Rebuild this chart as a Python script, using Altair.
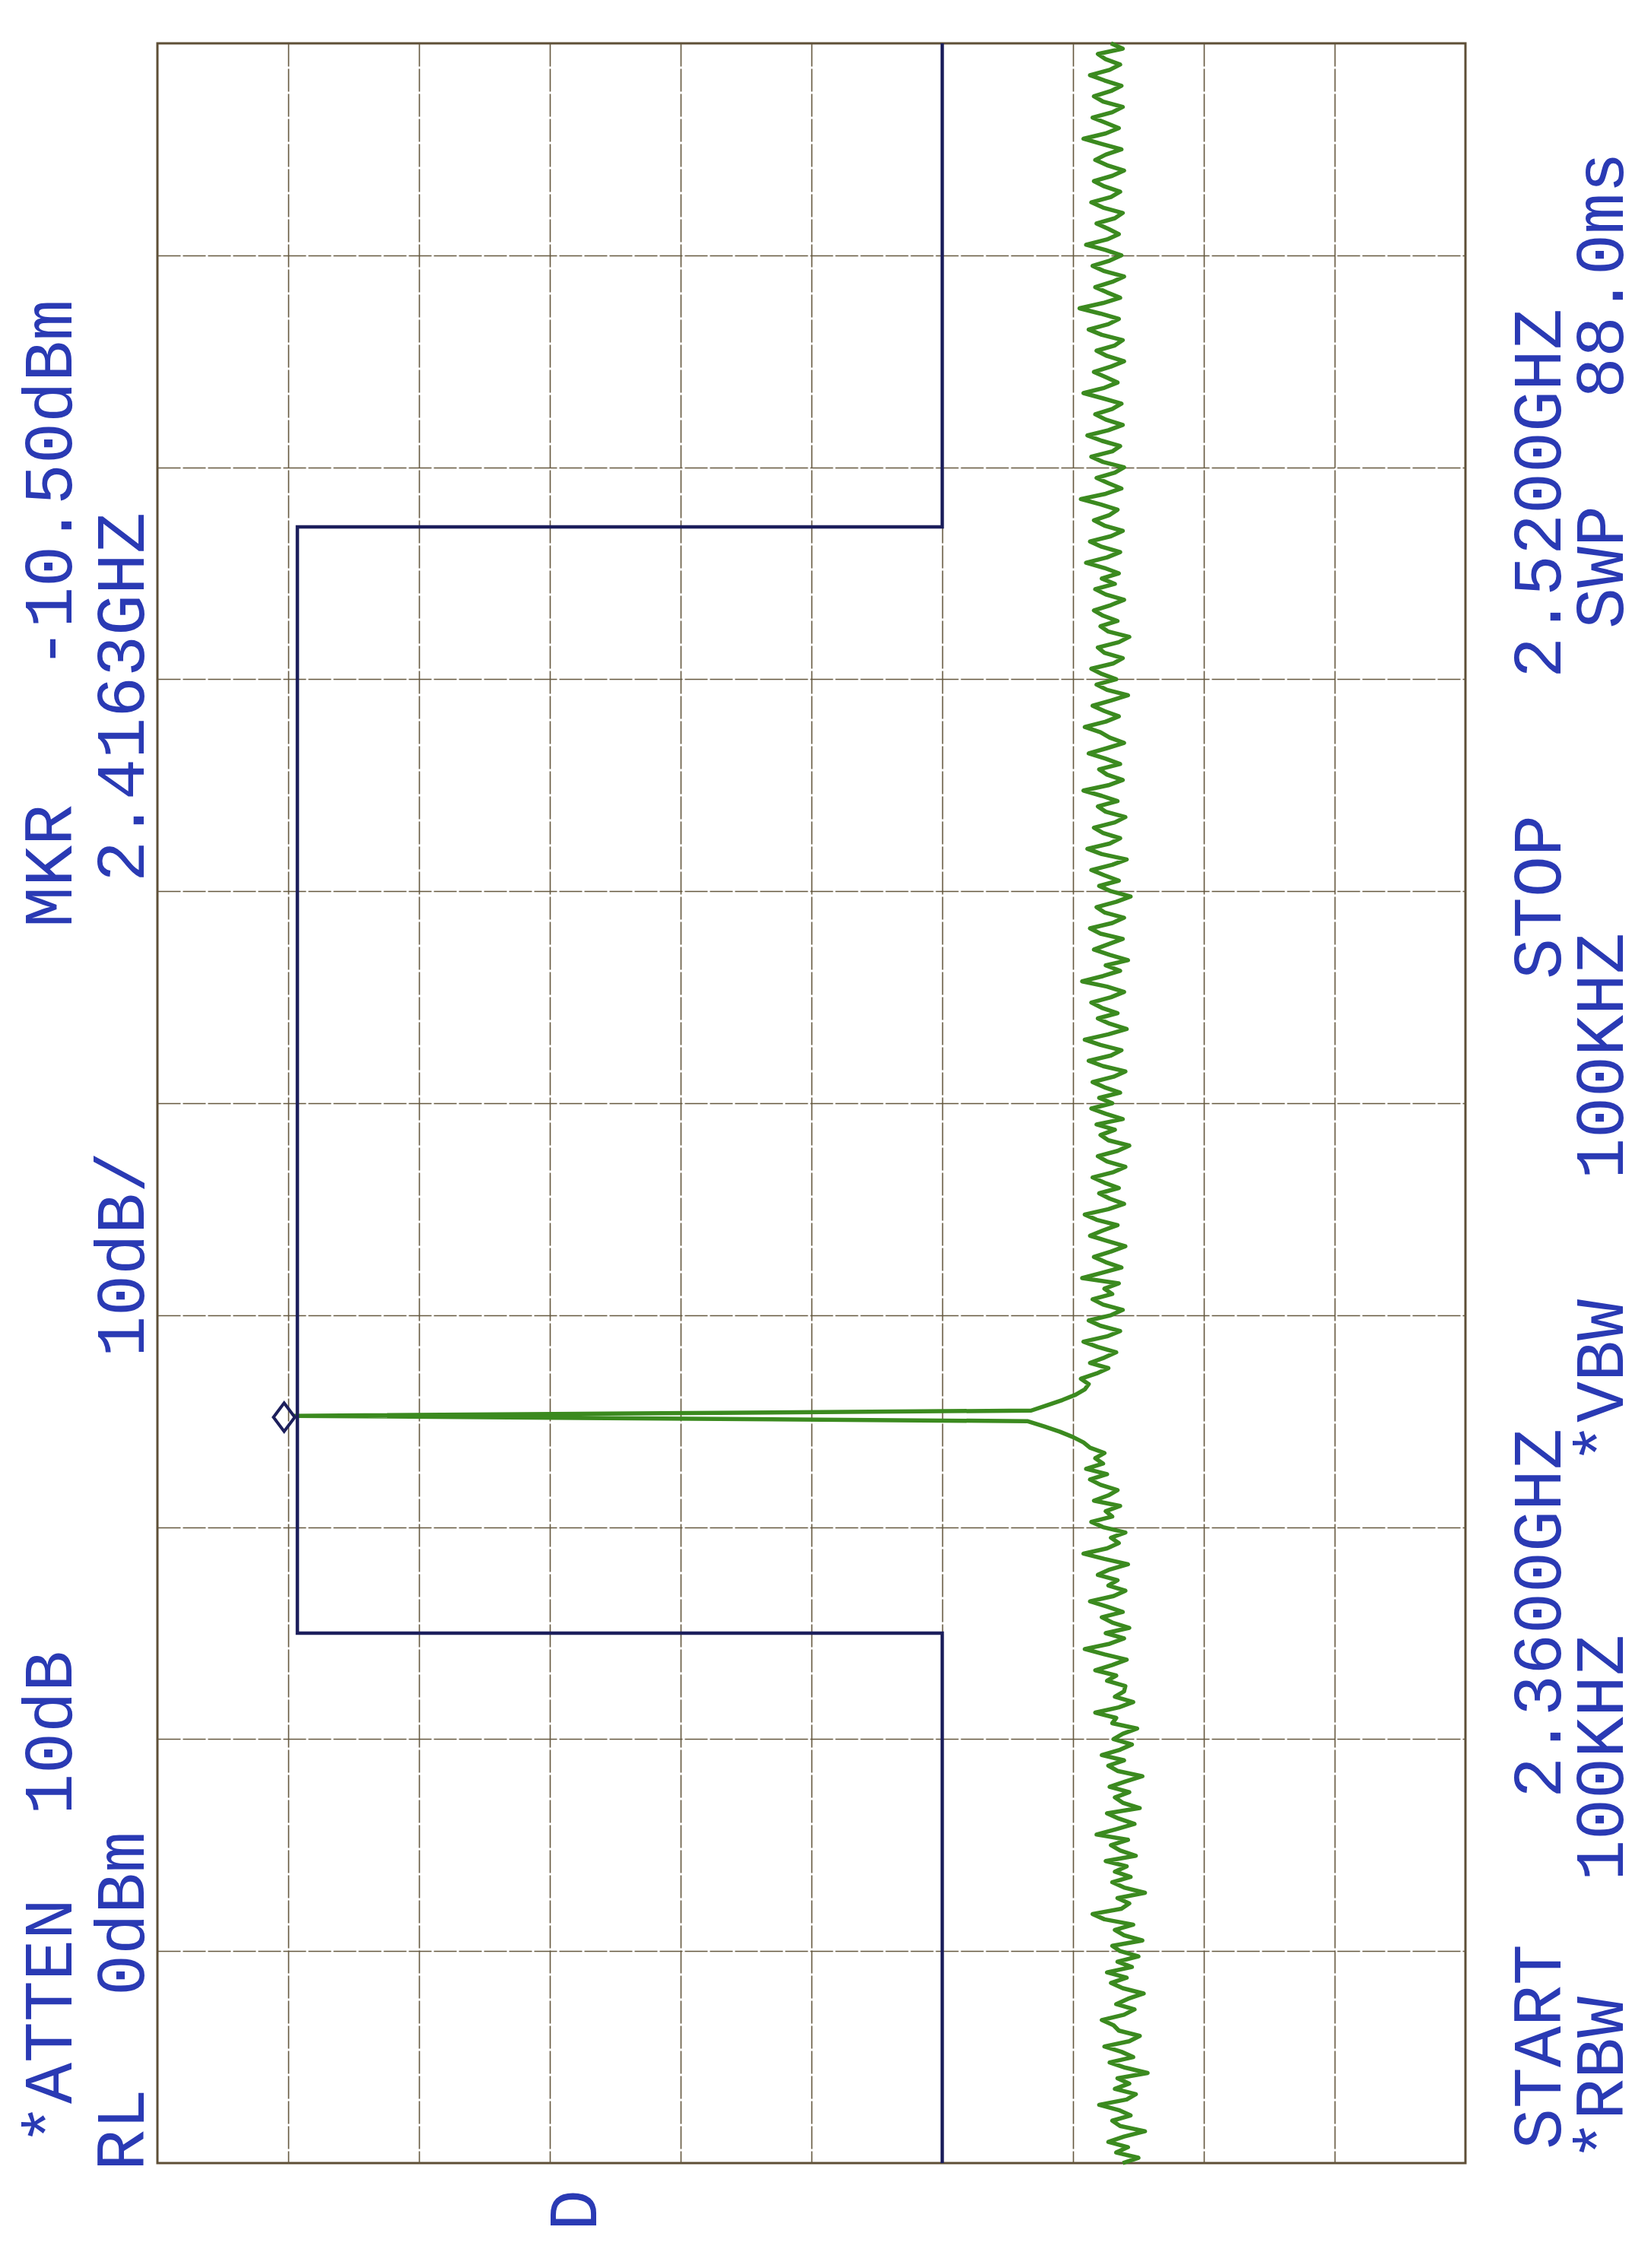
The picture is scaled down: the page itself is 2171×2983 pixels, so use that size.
import altair as alt
import numpy as np
import pandas as pd

# ---- instrument settings (from the annotation) ----
START_GHZ = 2.36
STOP_GHZ = 2.52
N_POINTS = 401
REF_LEVEL = 0
DB_PER_DIV = 10
MKR_DBM = -10.50
MKR_GHZ = 2.4163

# ---- trace amplitudes (dBm) (start -> stop) ----
noise_a = [-73.8, -75.0, -73.3, -74.2, -72.7, -73.9, -75.5, -73.6, -73.0, -74.4,
           -73.5, -72.0, -74.1, -74.8, -73.2, -74.3, -73.4, -75.7, -74.0, -72.8,
           -74.6, -73.7, -72.4, -74.3, -75.1, -73.5, -73.1, -72.2, -73.9, -74.7,
           -73.3, -74.2, -75.4, -73.8, -72.9, -74.1, -72.6, -74.5, -73.4, -75.0,
           -73.6, -73.0, -75.3, -73.9, -73.2]
noise_b = [-74.6, -72.4, -71.5, -73.7, -74.3, -73.4, -75.5, -73.9, -73.0, -74.4,
           -73.2, -74.1, -72.5, -74.8, -73.6, -72.9, -74.2, -71.8, -73.3, -74.7,
           -73.5, -72.6, -75.1, -73.8, -73.2, -74.3, -72.8, -74.0, -75.3, -73.4,
           -72.7, -73.9, -72.2, -73.6, -74.5, -73.1, -73.8, -74.9, -73.0, -73.3,
           -71.7, -73.5, -74.6, -73.2, -73.9]
noise_c = [-74.0, -72.6, -73.3, -71.7, -73.0, -74.1, -72.4, -70.9, -72.8, -73.9,
           -72.5, -74.3, -73.0, -72.2, -73.8, -72.6, -71.3, -73.1, -74.0, -72.7,
           -73.4, -71.9, -72.8, -74.2, -72.4, -70.8, -72.6, -73.5, -72.9, -74.0,
           -72.3, -71.4, -73.0, -72.5, -73.6, -71.6, -72.7, -73.4, -72.1, -71.3,
           -72.6, -71.0, -72.3, -71.7, -72.4]
skirt_low = [-71.3, -70.8, -70.0, -69.0, -67.8, -66.5]
peak = [MKR_DBM]
skirt_high = [-66.8, -68.0, -69.2, -70.2, -70.9, -71.2]
noise_d = [-70.6, -71.8, -72.7, -71.3, -72.4, -73.3, -71.9, -70.8, -72.6, -73.6,
           -72.1, -71.2, -72.9, -73.8, -72.3, -71.5, -73.0, -72.4, -73.5, -70.7,
           -72.2, -73.7, -72.5, -71.6, -72.9, -74.0, -72.6, -71.3, -72.3, -73.4,
           -71.8, -70.9, -72.7, -73.9, -72.8, -72.0, -73.5, -72.4, -71.5, -73.1,
           -74.0, -72.6, -71.9, -73.4, -74.3, -72.7, -72.1, -73.2, -71.8, -73.8,
           -72.5, -71.4, -73.0]
noise_e = [-72.0, -73.6, -72.4, -71.5, -73.1, -74.0, -72.3, -71.2, -72.9, -73.7,
           -72.1, -70.9, -72.7, -74.1, -72.8, -71.9, -73.4, -72.2, -71.4, -72.9,
           -73.9, -72.6, -70.7, -72.3, -73.6, -72.5, -74.2, -72.8, -71.6, -72.7,
           -73.8, -72.1, -71.3, -73.0, -73.9, -72.4, -71.8, -73.3, -74.4, -72.9,
           -72.0, -73.5, -72.4, -71.4, -73.0, -74.1, -72.2, -71.1, -72.8, -73.6,
           -72.3, -71.6, -73.2, -74.0, -72.5, -71.9, -73.4, -72.2, -70.8, -72.7,
           -73.8, -72.6, -72.0, -73.6, -72.5, -71.2, -72.6, -73.9, -72.8, -72.1,
           -70.9, -72.5, -73.5, -72.4, -71.5, -72.9, -74.2, -72.6, -71.8, -73.3,
           -72.2, -71.4, -73.1, -73.8, -72.4, -71.9, -73.5, -74.3, -72.7, -72.1,
           -73.4, -72.3, -71.6, -72.9, -73.9, -72.5, -71.7, -73.2, -72.2, -73.5]
noise_f = [-72.4, -71.0, -72.6, -73.6, -72.2, -71.3, -72.9, -73.8, -72.4, -71.6,
           -72.8, -73.4, -72.1, -70.6, -72.5, -73.7, -72.7, -71.8, -73.2, -73.9,
           -72.3, -71.4, -73.0, -73.6, -72.2, -71.1, -72.7, -73.8, -72.5, -71.7,
           -73.0, -73.7, -72.3, -70.8, -72.4, -73.4, -72.5, -71.6, -72.9, -73.9,
           -72.6, -71.8, -73.2, -73.8, -72.2, -71.2, -72.7, -73.5, -72.1, -70.5,
           -72.3, -73.6, -72.6, -71.7, -73.0, -73.9, -72.4, -71.5, -72.8, -73.7,
           -72.5, -71.0, -72.6, -73.5, -72.7, -71.8, -73.2, -73.8, -72.3, -71.4,
           -72.9, -73.6, -72.4, -71.6, -73.0, -73.9, -72.6, -71.7, -72.5, -73.7,
           -72.2, -70.8, -72.5, -73.5, -72.5, -71.5, -73.0, -73.8, -72.3, -71.6,
           -72.9, -73.7, -72.4, -71.3, -72.8, -73.6, -72.5, -71.9, -73.8, -72.9]

trace_dbm = (noise_a + noise_b + noise_c + skirt_low + peak + skirt_high
             + noise_d + noise_e + noise_f)
trace_ghz = np.linspace(START_GHZ, STOP_GHZ, N_POINTS)

# ---- limit-line (mask) vertices ----
mask_ghz = [2.36, 2.40, 2.40, 2.4835, 2.4835, 2.52]
mask_dbm = [-60.0, -60.0, -10.7, -10.7, -60.0, -60.0]

# ---- grid ----
amp_grid = [REF_LEVEL - DB_PER_DIV * k for k in range(1, 10)]
freq_grid = [START_GHZ + (STOP_GHZ - START_GHZ) * k / 10 for k in range(1, 10)]

# ---- annotation words: (text, column x px, centre y px) relative to the plot area ----
COL_L1, COL_L2, COL_R1, COL_R2 = -140, -45, 1818, 1900
labels = [
    ("*ATTEN", COL_L1, 2602), ("10dB", COL_L1, 2222),
    ("RL", COL_L2, 2744), ("0dBm", COL_L2, 2460),
    ("MKR", COL_L1, 1082), ("-10.50dBm", COL_L1, 580),
    ("2.4163GHZ", COL_L2, 860),
    ("10dB/", COL_L2, 1593),
    ("START", COL_R1, 2635), ("2.3600GHZ", COL_R1, 2065),
    ("*RBW", COL_R2, 2677), ("100KHZ", COL_R2, 2255),
    ("*VBW", COL_R2, 1760), ("100KHZ", COL_R2, 1332),
    ("STOP", COL_R1, 1123), ("2.5200GHZ", COL_R1, 592),
    ("SWP", COL_R2, 689), ("88.0ms", COL_R2, 305),
    ("D", 550, 2850),
]

W, H = 1720, 2788
TEXT_BLUE = "#2a3ab4"
NAVY = "#1c1f5c"
GREEN = "#3b8a1f"
GRID = "#65583f"

trace_df = pd.DataFrame({"i": np.arange(N_POINTS), "ghz": trace_ghz, "dbm": trace_dbm})
mask_df = pd.DataFrame({"i": np.arange(len(mask_ghz)), "ghz": mask_ghz, "dbm": mask_dbm})
mkr_df = pd.DataFrame({"ghz": [MKR_GHZ], "dbm": [MKR_DBM]})

xscale = alt.Scale(domain=[REF_LEVEL, REF_LEVEL - 10 * DB_PER_DIV], nice=False, zero=False)
yscale = alt.Scale(domain=[START_GHZ, STOP_GHZ], nice=False, zero=False)

xaxis = alt.Axis(values=amp_grid, grid=True, labels=False, ticks=False, domain=False,
                 title=None, gridColor=GRID, gridWidth=1.6, gridDash=[30, 3], gridOpacity=1)
yaxis = alt.Axis(values=freq_grid, grid=True, labels=False, ticks=False, domain=False,
                 title=None, gridColor=GRID, gridWidth=1.6, gridDash=[30, 3], gridOpacity=1)

trace = alt.Chart(trace_df).mark_line(color=GREEN, strokeWidth=5.5, strokeJoin="round").encode(
    x=alt.X("dbm:Q", scale=xscale, axis=xaxis),
    y=alt.Y("ghz:Q", scale=yscale, axis=yaxis),
    order=alt.Order("i:Q"),
)

mask = alt.Chart(mask_df).mark_line(color=NAVY, strokeWidth=4.5).encode(
    x=alt.X("dbm:Q", scale=xscale),
    y=alt.Y("ghz:Q", scale=yscale),
    order=alt.Order("i:Q"),
)

marker = alt.Chart(mkr_df).mark_point(
    shape="M 0 -1 L 0.75 0 L 0 1 L -0.75 0 Z", filled=False, color=NAVY,
    strokeWidth=4, size=1400, opacity=1, xOffset=-14,
).encode(
    x=alt.X("dbm:Q", scale=xscale),
    y=alt.Y("ghz:Q", scale=yscale),
)

text_layers = []
for txt, px, py in labels:
    text_layers.append(
        alt.Chart(pd.DataFrame({"t": [txt]})).mark_text(
            angle=270, align="center", baseline="middle", font="Liberation Mono",
            fontSize=90, color=TEXT_BLUE,
        ).encode(text="t:N", x=alt.value(px), y=alt.value(py))
    )

chart = alt.layer(trace, mask, marker, *text_layers).properties(
    width=W, height=H,
    padding={"left": 199, "top": 49, "right": 236, "bottom": 130},
    autosize=alt.AutoSizeParams(type="none"),
    background="white",
).configure_view(stroke="#5e4f36", strokeWidth=3)

chart.save("out.html", embed_options={"renderer": "svg", "actions": False})
